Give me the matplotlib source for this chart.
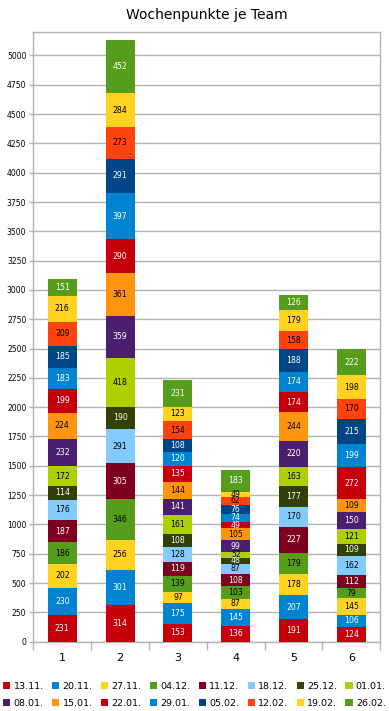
import matplotlib as mpl
mpl.use('Agg')
import matplotlib.pyplot as plt
from matplotlib.patches import Patch
import numpy as np

TEAMS = ["1", "2", "3", "4", "5", "6"]
WEEKS = ["13.11.", "20.11.", "27.11.", "04.12.", "11.12.", "18.12.", "25.12.", "01.01.",
         "08.01.", "15.01.", "22.01.", "29.01.", "05.02.", "12.02.", "19.02.", "26.02."]

# points per week (rows) for teams 1..6 (columns)
POINTS = [
    [231, 314, 153, 136, 191, 124],
    [230, 301, 175, 145, 207, 106],
    [202, 256, 97, 87, 178, 145],
    [186, 346, 139, 103, 179, 79],
    [187, 305, 119, 108, 227, 112],
    [176, 291, 128, 87, 170, 162],
    [114, 190, 108, 48, 177, 109],
    [172, 418, 161, 52, 163, 121],
    [232, 359, 141, 99, 220, 150],
    [224, 361, 144, 105, 244, 109],
    [199, 290, 135, 49, 174, 272],
    [183, 397, 120, 74, 174, 199],
    [185, 291, 108, 76, 188, 215],
    [209, 273, 154, 62, 158, 170],
    [216, 284, 123, 49, 179, 198],
    [151, 452, 231, 183, 126, 222],
]

COLORS = ['#c5000b', '#0084d1', '#ffd320', '#579d1c', '#7e0021', '#83caff', '#314004', '#aecf00',
          '#4b1f6f', '#ff950e', '#c5000b', '#0084d1', '#004586', '#ff420e', '#ffd320', '#579d1c']
LABEL_COLORS = ['white', 'white', 'black', 'black', 'white', 'black', 'white', 'black',
                'white', 'black', 'white', 'white', 'white', 'black', 'black', 'white']

GRID = '#b3b3b3'

fig = plt.figure(figsize=(3.89, 7.11), dpi=100)
ax = fig.add_axes([0.0857, 0.0975, 0.892, 0.8575])

x = np.arange(len(TEAMS))
bottom = np.zeros(len(TEAMS))
for i, week in enumerate(WEEKS):
    vals = np.array(POINTS[i], dtype=float)
    ax.bar(x, vals, 0.5, bottom=bottom, color=COLORS[i], label=week, zorder=3)
    for xi, v, b in zip(x, vals, bottom):
        ax.text(xi, b + v / 2, str(int(v)), ha='center', va='center',
                fontsize=5.6, color=LABEL_COLORS[i], zorder=4)
    bottom += vals

ax.set_xlim(-0.5, 5.5)
ax.set_ylim(0, 5200)
ax.set_yticks(np.arange(0, 5001, 250))
ax.set_yticklabels([str(v) for v in range(0, 5001, 250)], fontsize=5.5)
ax.set_xticks(x)
ax.set_xticklabels(TEAMS, fontsize=8)
ax.set_xticks(np.arange(-0.5, 6, 1), minor=True)
ax.tick_params(axis='x', which='major', length=0, pad=8)
ax.tick_params(axis='x', which='minor', length=6, color=GRID, width=1)
ax.tick_params(axis='y', length=3, color=GRID, width=1, pad=2)
ax.yaxis.grid(True, color=GRID, linewidth=1, zorder=0)
ax.set_axisbelow(True)
for sp in ax.spines.values():
    sp.set_color(GRID)
    sp.set_linewidth(1)

ax.set_title("Wochenpunkte je Team", fontsize=10, pad=9)

# legend laid out row by row
handles = [Patch(facecolor=c) for c in COLORS]
order = []
for col in range(8):
    order += [col, col + 8]
fig.legend([handles[k] for k in order], [WEEKS[k] for k in order],
           loc='upper center', bbox_to_anchor=(0.5, 0.041), ncol=8, frameon=False,
           fontsize=6.8, handlelength=0.75, handleheight=0.75, handletextpad=0.35,
           columnspacing=0.9, labelspacing=0.85, borderaxespad=0, borderpad=0)

plt.savefig('out.png', dpi=100)
